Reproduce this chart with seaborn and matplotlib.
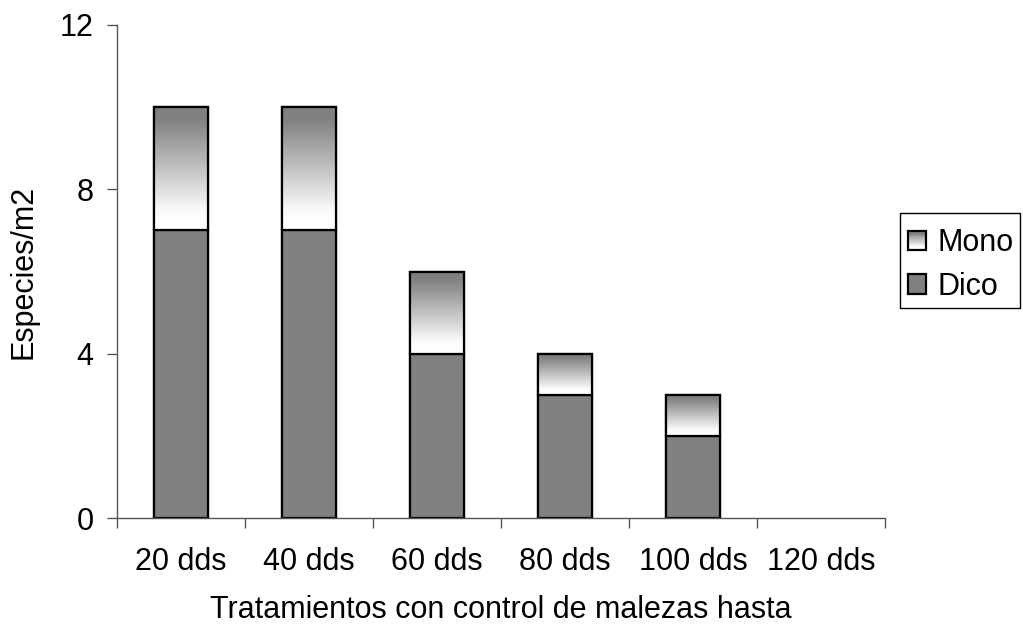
import numpy as np
import pandas as pd
import matplotlib
matplotlib.use("Agg")
import matplotlib.pyplot as plt
import seaborn as sns
from matplotlib.patches import Rectangle
from matplotlib.legend_handler import HandlerBase

categories = ["20 dds", "40 dds", "60 dds", "80 dds", "100 dds", "120 dds"]
dico = [7, 7, 4, 3, 2, 0]
mono = [3, 3, 2, 1, 1, 0]
yticks = [0, 4, 8, 12]

sns.set_style("white")
plt.rcParams['font.family'] = ['Liberation Sans', 'DejaVu Sans']
plt.rcParams['text.color'] = 'black'
plt.rcParams['axes.labelcolor'] = 'black'
plt.rcParams['xtick.labelcolor'] = 'black'
plt.rcParams['ytick.labelcolor'] = 'black'

total = [d + m for d, m in zip(dico, mono)]
df = pd.DataFrame({"cat": categories, "dico": dico, "mono": mono, "total": total})

fig = plt.figure(figsize=(10.23, 6.29), dpi=100)
ax = fig.add_axes([117/1023, 1-518/629, (885-117)/1023, (518-25)/629])

GRAY = "#808080"
AXC = "#555555"
W = 0.42
LW = 1.6
FS = 22

sns.barplot(data=df, x="cat", y="total", color="white", width=W, ax=ax,
            edgecolor="black", linewidth=LW, saturation=1)
top_patches = list(ax.patches)
sns.barplot(data=df, x="cat", y="dico", color=GRAY, width=W, ax=ax,
            edgecolor="black", linewidth=LW, saturation=1)
for p in ax.patches:
    if p.get_height() == 0:
        p.set_visible(False)

# gradient for mono
grad = np.linspace(0, 1, 256).reshape(-1, 1)  # 0 bottom -> 1 top
cmap = matplotlib.colors.LinearSegmentedColormap.from_list(
    "g", [(0, "#ffffff"), (0.15, "#fbfbfb"), (0.9, GRAY), (1, GRAY)])
for p, d, t in zip(top_patches, dico, total):
    if t - d <= 0:
        continue
    x0 = p.get_x(); x1 = x0 + p.get_width()
    ax.imshow(grad, extent=[x0, x1, d, t], origin="lower", cmap=cmap,
              aspect="auto", zorder=p.get_zorder() + 0.1, vmin=0, vmax=1)
    ax.add_patch(Rectangle((x0, d), x1 - x0, t - d, fill=False, edgecolor="black",
                           linewidth=LW, zorder=p.get_zorder() + 0.2))

ax.set_xlim(-0.5, len(categories) - 0.5)
ax.set_ylim(0, 12)
ax.set_yticks(yticks)
ax.set_yticklabels([str(v) for v in yticks])
ax.set_xticks(range(len(categories)))
ax.set_xticklabels(categories)
ax.set_xticks(np.arange(-0.5, len(categories) + 0.5, 1), minor=True)
ax.tick_params(axis="x", which="major", length=0, pad=21, labelsize=FS, labelcolor="black")
ax.tick_params(axis="x", which="minor", length=7, width=1, color=AXC, direction="out", bottom=True)
ax.tick_params(axis="y", length=7, width=1, color=AXC, direction="out", left=True, labelsize=FS, pad=10,
               labelcolor="black")

for s in ["top", "right"]:
    ax.spines[s].set_visible(False)
for s in ["left", "bottom"]:
    ax.spines[s].set_color(AXC)
    ax.spines[s].set_linewidth(1)

ax.set_xlabel("Tratamientos con control de malezas hasta", fontsize=FS, labelpad=13, color="black")
ax.set_ylabel("Especies/m2", fontsize=FS, labelpad=15, color="black")


class GradHandler(HandlerBase):
    def create_artists(self, legend, orig_handle, xdescent, ydescent, width, height, fontsize, trans):
        arts = []
        n = 20
        for i in range(n):
            v = i / (n - 1)
            c = cmap(v)
            arts.append(Rectangle((-xdescent, -ydescent + height * i / n), width, height / n + 0.1,
                                  facecolor=c, edgecolor="none", transform=trans))
        arts.append(Rectangle((-xdescent, -ydescent), width, height, fill=False,
                              edgecolor="black", linewidth=1.6, transform=trans))
        return arts


# legend frame drawn manually
fig.add_artist(Rectangle((900/1023, 1-308/629), (1020-900)/1023, (308-213)/629,
                         transform=fig.transFigure, fill=False, edgecolor="black",
                         linewidth=1))
mono_h = Rectangle((0, 0), 1, 1)
dico_h = Rectangle((0, 0), 1, 1, facecolor=GRAY, edgecolor="black", linewidth=1.6)
leg = fig.legend([mono_h, dico_h], ["Mono", "Dico"],
                 handler_map={mono_h: GradHandler()},
                 loc="center left", bbox_to_anchor=(908/1023, 1-265/629),
                 fontsize=FS, frameon=False, labelcolor="black",
                 handlelength=0.6, handleheight=0.6, handletextpad=0.35,
                 borderpad=0.0, labelspacing=0.45, borderaxespad=0)

fig.savefig("out.png", dpi=100)
